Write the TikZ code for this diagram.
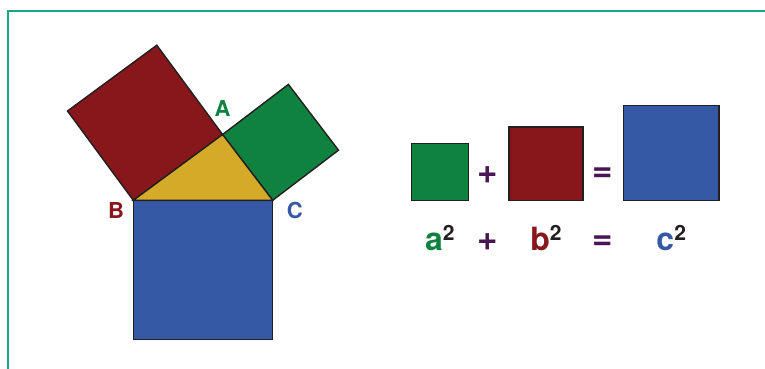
\documentclass[tikz,border=0pt]{standalone}
\usepackage{fontspec}
\setmainfont{TeX Gyre Heros}
\usetikzlibrary{positioning}

\definecolor{sqred}{RGB}{135,23,27}
\definecolor{sqgreen}{RGB}{16,130,64}
\definecolor{sqblue}{RGB}{54,89,166}
\definecolor{triyellow}{RGB}{212,170,40}
\definecolor{opviolet}{RGB}{72,22,82}
\definecolor{framegreen}{RGB}{20,165,140}
\definecolor{edge}{RGB}{35,31,32}
\newcommand{\sqterm}[2]{\textcolor{#1}{#2}\raisebox{10.5pt}{\fontsize{21}{21}\selectfont\bfseries\color{edge}2}}

\begin{document}
\begin{tikzpicture}[x=1pt, y=-1pt,
  face/.style={draw=edge, line width=1.4pt, line join=miter},
  sqbox/.style={face, rectangle, inner sep=0pt, anchor=south west},
  vlabel/.style={font=\fontsize{22}{22}\selectfont\bfseries, inner sep=0pt},
  term/.style={font=\fontsize{32}{32}\selectfont\bfseries, inner sep=0pt},
  op/.style={font=\fontsize{35}{35}\selectfont\bfseries, inner sep=0pt, text=opviolet}
]
  \useasboundingbox (0,0) rectangle (765,369);
  \draw[draw=framegreen, line width=1.6pt] (7.8,369) |- (765,11.2);

  \coordinate (B) at (133.3,200.3);
  \coordinate (C) at (272.7,200.3);
  \coordinate (A) at (222.6,134.5);

  \filldraw[face, fill=sqblue]  (B) -- (C) -- (272.7,339.7) -- (133.3,339.7) -- cycle;
  \filldraw[face, fill=sqred]   (B) -- (A) -- (156.8,45.2) -- (67.5,111) -- cycle;
  \filldraw[face, fill=sqgreen] (A) -- (C) -- (338.5,150.2) -- (288.4,84.4) -- cycle;
  \filldraw[face, fill=triyellow] (A) -- (B) -- (C) -- cycle;

  \node[vlabel, text=sqgreen, above=18pt of A]               (la) {A};
  \node[vlabel, text=sqred,   below left=2pt and 9pt of B]   (lb) {B};
  \node[vlabel, text=sqblue,  below right=2pt and 14pt of C] (lc) {C};

  \node[sqbox, fill=sqgreen, minimum width=57pt, minimum height=57pt]     (sqa) at (410.7,201.3) {};
  \node[sqbox, fill=sqred,   minimum width=74pt, minimum height=73.6pt]   (sqb) at (508.3,201.3) {};
  \node[sqbox, fill=sqblue,  minimum width=95.6pt, minimum height=95.3pt] (sqc) at (622.7,201.3) {};
  \node[op] (plus1) at (487.7,175) {+};
  \node[op] (eq1)   at (602.4,174.7) {=};

  \node[term, below=49.4pt of sqa.south, anchor=base] (ta) {\sqterm{sqgreen}{a}};
  \node[term, below=49.4pt of sqb.south, anchor=base] (tb) {\sqterm{sqred}{b}};
  \node[term, below=49.4pt of sqc.south, anchor=base] (tc) {\sqterm{sqblue}{c}};
  \node[op] (plus2) at (487.7,242.5) {+};
  \node[op] (eq2)   at (602.4,243) {=};
\end{tikzpicture}
\end{document}
